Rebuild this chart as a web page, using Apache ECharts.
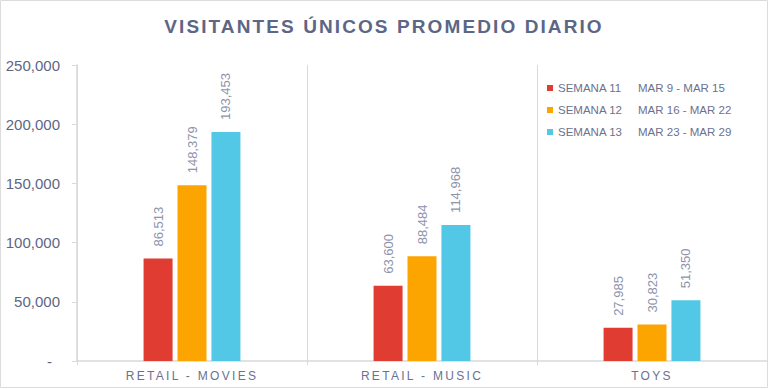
<!DOCTYPE html>
<html>
<head>
<meta charset="utf-8">
<script src="https://cdn.jsdelivr.net/npm/echarts@6/dist/echarts.min.js"></script>
<style>
  html, body { margin: 0; padding: 0; background: #ffffff; }
  #chart { width: 768px; height: 389px; }
  /* letter spacing for title and category labels (SVG text) */
  #chart svg text[style*="19px"] { letter-spacing: 2.1px; }
  #chart svg text[style*="12px"] { letter-spacing: 2.3px; }
</style>
</head>
<body>
<div id="chart"></div>
<script>
const titleText = 'VISITANTES ÚNICOS PROMEDIO DIARIO';
const categories = ['RETAIL - MOVIES', 'RETAIL - MUSIC', 'TOYS'];
const seriesNames = ['SEMANA 11', 'SEMANA 12', 'SEMANA 13'];
const seriesRanges = ['MAR 9 - MAR 15', 'MAR 16 - MAR 22', 'MAR 23 - MAR 29'];
const semana11 = [86513, 63600, 27985];
const semana12 = [148379, 88484, 30823];
const semana13 = [193453, 114968, 51350];
const colors = ['#e03c31', '#fca400', '#52c8e6'];

const seriesData = [semana11, semana12, semana13];
const labelColor = '#8d93aa';
const font = 'Liberation Sans, Arial, sans-serif';

const chart = echarts.init(document.getElementById('chart'), null, { renderer: 'svg' });

const fmt = v => v.toLocaleString('en-US');

chart.setOption({
  animation: false,
  backgroundColor: '#ffffff',
  color: colors,
  title: {
    text: titleText,
    left: 'center',
    top: 12,
    textStyle: { fontFamily: font, fontSize: 19, fontWeight: 'bold', color: '#5d6685' }
  },
  legend: {
    orient: 'vertical',
    left: 542,
    top: 77,
    itemWidth: 6,
    itemHeight: 6,
    itemGap: 10,
    icon: 'rect',
    data: seriesNames,
    formatter: name => {
      const i = seriesNames.indexOf(name);
      return '{a|' + name + '}{b|' + seriesRanges[i] + '}';
    },
    textStyle: {
      fontFamily: font,
      fontSize: 11.5,
      color: '#6b7190',
      rich: {
        a: { width: 80, fontSize: 11.5, color: '#6b7190', fontFamily: font },
        b: { fontSize: 11.5, color: '#6b7190', fontFamily: font }
      }
    }
  },
  grid: { left: 77, right: 1, top: 65, bottom: 28, containLabel: false },
  xAxis: {
    type: 'category',
    data: categories,
    axisLine: { lineStyle: { color: '#d9d9d9', width: 1.5 } },
    axisTick: { show: true, length: 4, lineStyle: { color: '#d9d9d9' } },
    splitLine: { show: true, lineStyle: { color: '#d9d9d9', width: 1 } },
    axisLabel: {
      margin: 9,
      fontFamily: font,
      fontSize: 12,
      color: '#6b7190'
    }
  },
  yAxis: {
    type: 'value',
    min: 0,
    max: 250000,
    interval: 50000,
    axisLine: { show: true, lineStyle: { color: '#d9d9d9', width: 1.5 } },
    axisTick: { show: true, length: 5, lineStyle: { color: '#d9d9d9' } },
    splitLine: { show: false },
    axisLabel: {
      margin: 17,
      fontFamily: font,
      fontSize: 15,
      color: '#5d6685',
      formatter: v => v === 0 ? '{z|-}' : fmt(v),
      rich: { z: { fontSize: 15, color: '#5d6685', padding: [0, 8, 0, 0] } }
    }
  },
  series: seriesData.map((d, i) => ({
    name: seriesNames[i],
    type: 'bar',
    data: d,
    barWidth: 29,
    barGap: '17%',
    itemStyle: { color: colors[i] },
    label: {
      show: true,
      position: 'top',
      rotate: 90,
      align: 'left',
      verticalAlign: 'middle',
      distance: 12,
      fontFamily: font,
      fontSize: 13,
      color: labelColor,
      formatter: p => fmt(p.value)
    }
  })),
  graphic: [{
    type: 'rect',
    shape: { x: 0.5, y: 0.5, width: 767, height: 387 },
    style: { fill: 'none', stroke: '#dcdcdc', lineWidth: 1 },
    silent: true,
    z: 100
  }]
});
</script>
</body>
</html>
